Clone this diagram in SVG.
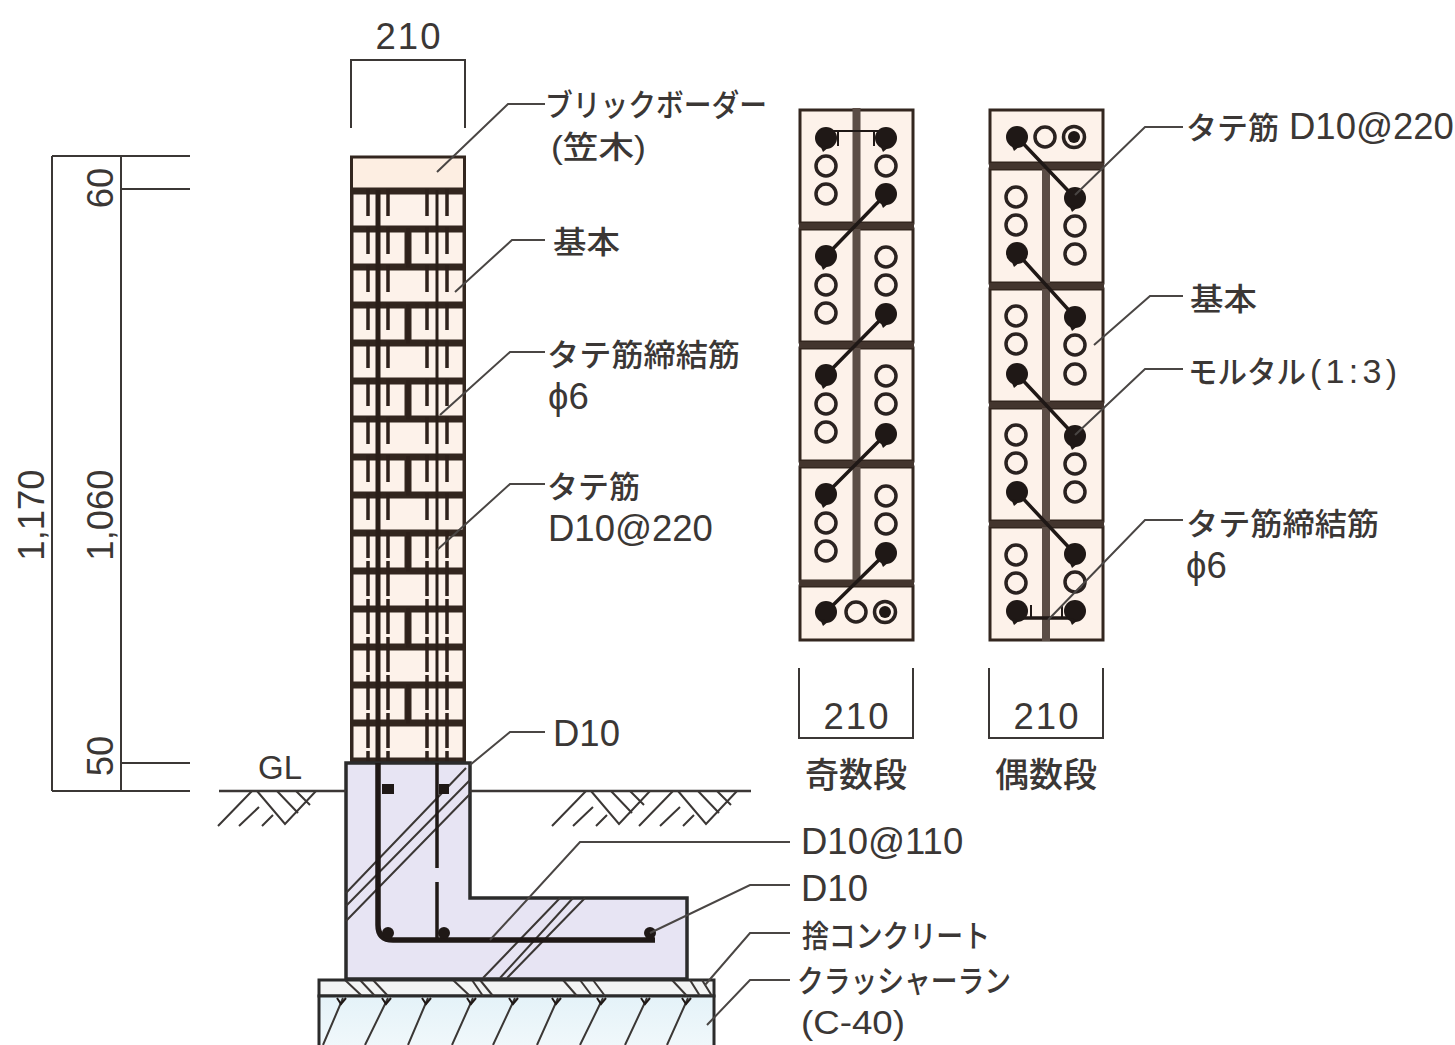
<svg xmlns="http://www.w3.org/2000/svg" xmlns:xlink="http://www.w3.org/1999/xlink" width="1455" height="1045" viewBox="0 0 1455 1045">
<style>
text{font-family:"Liberation Sans","Noto Sans CJK JP",sans-serif;font-size:36.500px;fill:#3b3735}
.j{font-family:"Noto Sans CJK JP","Liberation Sans",sans-serif;font-size:31px;font-weight:500}
.k{font-size:34px}
.m{text-anchor:middle}
.lead{fill:none;stroke:#4a4644;stroke-width:2}
.dim{fill:none;stroke:#3b3735;stroke-width:2}
.brick{fill:#fdf2ea;stroke:#33261f;stroke-width:3}
.tick{stroke:#2e211b;stroke-width:3.500;fill:none}
.hatch{stroke:#3b3735;stroke-width:2;fill:none}
.open{fill:#fdf2ea;stroke:#2a2220;stroke-width:3.500}
.fill{fill:#1f1816}
.bar{stroke:#1f1816;stroke-width:3.500;fill:none}
.thin{stroke:#1f1816;stroke-width:2;fill:none}
.band{fill:#5b4d46}
.joint{stroke:#43352e;stroke-width:6;fill:none}
</style>
<defs>
<g id="ticks"><path class="tick" d="M368 -4V23M388 -4V23M427 -4V23M447 -4V23"/></g>
<g id="ticks2"><path class="tick" d="M368 26V38M388 26V38M427 26V38M447 26V38"/></g>
<g id="rowA"><rect class="brick" x="352" y="0" width="112" height="34"/><use xlink:href="#ticks"/></g>
<g id="rowB"><rect class="brick" x="352" y="0" width="54" height="34"/><rect class="brick" x="410" y="0" width="54" height="34"/><path class="tick" d="M408 -3V37"/><use xlink:href="#ticks"/></g>
<g id="rowA2"><use xlink:href="#rowA"/><use xlink:href="#ticks2"/></g>
<g id="rowB2"><use xlink:href="#rowB"/><use xlink:href="#ticks2"/></g>
<g id="f"><circle class="fill" r="11"/><path class="fill" d="M-6 7L-3 14L3 9Z"/></g>
<g id="o"><circle class="open" r="10"/></g>
<g id="d"><circle class="open" r="10.500"/><circle class="fill" r="6"/></g>
<g id="ground"><path class="hatch" d="M218 826L252 791M239 826L259 807M262 826L273 815M257 791L285 824L316 791M277 791L298 813M296 791L310 805"/></g>
<linearGradient id="crush" x1="0" y1="0" x2="0" y2="1"><stop offset="0" stop-color="#e4f2f8"/><stop offset="1" stop-color="#f1f8fb"/></linearGradient>
</defs>

<g id="wall">
<rect x="350" y="187" width="116" height="576" fill="#33261f"/>
<rect class="brick" x="351.500" y="157" width="113" height="32" style="fill:#fdeee2"/>
<use xlink:href="#rowA" y="193"/><use xlink:href="#rowB" y="231"/><use xlink:href="#rowA" y="269"/><use xlink:href="#rowB" y="307"/><use xlink:href="#rowA" y="345"/><use xlink:href="#rowB" y="383"/><use xlink:href="#rowA" y="421"/><use xlink:href="#rowB" y="459"/><use xlink:href="#rowA" y="497"/><use xlink:href="#rowB2" y="535"/><use xlink:href="#rowA2" y="573"/><use xlink:href="#rowB2" y="611"/><use xlink:href="#rowA2" y="649"/><use xlink:href="#rowB2" y="687"/><use xlink:href="#rowA2" y="725"/>
<path d="M378 190V763" stroke="#2a1e18" stroke-width="5"/>
<path d="M437 190V763" stroke="#2a1e18" stroke-width="3"/>
</g>

<g id="base">
<rect x="319" y="980" width="395" height="16" fill="#f2f4f4" stroke="#2b2b2b" stroke-width="3"/>
<rect x="319" y="996" width="395" height="52" fill="url(#crush)" stroke="#2b2b2b" stroke-width="3"/>
<path class="hatch" d="M345 980L362 996M360 980L375 996M373 980L388 996M453 980L470 996M472 980L483 996M480 980L493 996M563 980L577 996M580 980L592 996M593 980L605 996M672 980L687 996M690 980L700 996M702 980L712 996"/>
<path class="hatch" d="M343 998L323 1045M388 998L365 1045M428 998L408 1045M473 998L452 1045M515 998L493 1045M558 998L537 1045M603 998L580 1045M647 998L625 1045M688 998L667 1045"/>
<path class="thin" d="M337 998L341 1004L346 998M382 998L386 1004L391 998M422 998L426 1004L431 998M467 998L471 1004L476 998M509 998L513 1004L518 998M552 998L556 1004L561 998M597 998L601 1004L606 998M641 998L645 1004L650 998M682 998L686 1004L691 998"/>
</g>

<g id="footing">
<path d="M346 763H470V898H687V979H346Z" fill="#e7e4f3" stroke="#2b2b2b" stroke-width="3.500"/>
<path class="hatch" d="M346 893L466 768M346 906L470 780M346 921L470 794M483 978L560 898M500 978L573 898M507 978L585 898"/>
<path d="M378 763V925Q378 940 393 940H655" fill="none" stroke="#1f1816" stroke-width="5.500"/>
<path class="bar" d="M437 763V868M437 882V940"/>
<rect class="fill" x="382" y="784" width="12" height="10"/><rect class="fill" x="439" y="784" width="10" height="10"/><circle class="fill" cx="388" cy="933" r="6"/><circle class="fill" cx="444" cy="933" r="6"/><circle class="fill" cx="650" cy="933" r="6"/>
</g>

<g id="ground-line">
<path class="dim" style="stroke-width:2.500" d="M219 791H346M470 791H751"/>
<use xlink:href="#ground"/><use xlink:href="#ground" x="334"/><use xlink:href="#ground" x="421"/>
<text x="258" y="779" style="font-size:33px">GL</text>
</g>

<g id="odd-column">
<rect class="brick" x="800" y="110" width="113" height="113"/><rect class="brick" x="800" y="229" width="113" height="113"/><rect class="brick" x="800" y="348" width="113" height="113"/><rect class="brick" x="800" y="467" width="113" height="114"/><rect class="brick" x="800" y="586" width="113" height="54"/>
<rect class="band" x="852.500" y="108" width="8" height="478"/>
<path class="joint" d="M799 226H914M799 345H914M799 464H914M799 583H914"/>
<path class="bar" d="M886 194L826 256M886 314L826 375M886 434L826 494M886 553L826 612"/>
<path class="thin" d="M826 131H886M838 131V146M874 131V146"/>
<use xlink:href="#f" x="826" y="138"/><use xlink:href="#o" x="826" y="166"/><use xlink:href="#o" x="826" y="194"/>
<use xlink:href="#f" x="886" y="138"/><use xlink:href="#o" x="886" y="166"/><use xlink:href="#f" x="886" y="194"/>
<use xlink:href="#f" x="826" y="256"/><use xlink:href="#o" x="826" y="285"/><use xlink:href="#o" x="826" y="313"/>
<use xlink:href="#o" x="886" y="257"/><use xlink:href="#o" x="886" y="285"/><use xlink:href="#f" x="886" y="314"/>
<use xlink:href="#f" x="826" y="375"/><use xlink:href="#o" x="826" y="404"/><use xlink:href="#o" x="826" y="432"/>
<use xlink:href="#o" x="886" y="376"/><use xlink:href="#o" x="886" y="404"/><use xlink:href="#f" x="886" y="434"/>
<use xlink:href="#f" x="826" y="494"/><use xlink:href="#o" x="826" y="523"/><use xlink:href="#o" x="826" y="551"/>
<use xlink:href="#o" x="886" y="496"/><use xlink:href="#o" x="886" y="524"/><use xlink:href="#f" x="886" y="553"/>
<use xlink:href="#f" x="826" y="612"/><use xlink:href="#o" x="856" y="612"/><use xlink:href="#d" x="885" y="612"/>
</g>

<g id="even-column">
<rect class="brick" x="990" y="110" width="113" height="53"/><rect class="brick" x="990" y="169" width="113" height="114"/><rect class="brick" x="990" y="289" width="113" height="113"/><rect class="brick" x="990" y="408" width="113" height="113"/><rect class="brick" x="990" y="527" width="113" height="113"/>
<rect class="band" x="1042" y="166" width="8" height="475"/>
<path class="joint" d="M989 166H1104M989 286H1104M989 405H1104M989 524H1104"/>
<path class="bar" d="M1017 137L1075 198M1017 253L1075 317M1017 374L1075 436M1017 492L1075 554M1017 618H1075"/>
<path class="thin" d="M1031 605V618M1062 605V618"/>
<use xlink:href="#f" x="1017" y="137"/><use xlink:href="#o" x="1045" y="137"/><use xlink:href="#d" x="1074" y="137"/>
<use xlink:href="#o" x="1016" y="197"/><use xlink:href="#o" x="1016" y="225"/><use xlink:href="#f" x="1017" y="253"/>
<use xlink:href="#f" x="1075" y="198"/><use xlink:href="#o" x="1075" y="226"/><use xlink:href="#o" x="1075" y="254"/>
<use xlink:href="#o" x="1016" y="316"/><use xlink:href="#o" x="1016" y="344"/><use xlink:href="#f" x="1017" y="374"/>
<use xlink:href="#f" x="1075" y="317"/><use xlink:href="#o" x="1075" y="345"/><use xlink:href="#o" x="1075" y="374"/>
<use xlink:href="#o" x="1016" y="435"/><use xlink:href="#o" x="1016" y="463"/><use xlink:href="#f" x="1017" y="492"/>
<use xlink:href="#f" x="1075" y="436"/><use xlink:href="#o" x="1075" y="464"/><use xlink:href="#o" x="1075" y="492"/>
<use xlink:href="#o" x="1016" y="555"/><use xlink:href="#o" x="1016" y="583"/><use xlink:href="#f" x="1017" y="611"/>
<use xlink:href="#f" x="1075" y="554"/><use xlink:href="#o" x="1075" y="582"/><use xlink:href="#f" x="1075" y="611"/>
</g>

<g id="connectors">
<path class="lead" d="M545 104H508L437 172"/>
<path class="lead" d="M545 240H512L455 292"/>
<path class="lead" d="M545 352H510L440 415"/>
<path class="lead" d="M545 484H510L437 550"/>
<path class="lead" d="M545 732H510L470 765"/>
<path class="lead" d="M1183 127H1145L1075 195"/>
<path class="lead" d="M1183 296H1150L1094 345"/>
<path class="lead" d="M1183 369H1145L1075 435"/>
<path class="lead" d="M1183 520H1145L1048 620"/>
<path class="lead" d="M790 842H580L490 940"/>
<path class="lead" d="M790 885H750L650 933"/>
<path class="lead" d="M790 933H750L705 985"/>
<path class="lead" d="M790 980H750L707 1025"/>
</g>

<g id="dimensions">
<path class="dim" d="M351 128V60H465V128"/>
<text class="m" x="408" y="49" textLength="65">210</text>
<path class="dim" d="M52 156H190M121 189H190M121 763H190M52 791H190M52 156V791M121 156V791"/>
<text class="m" transform="translate(44 515) rotate(-90)">1,170</text>
<text class="m" transform="translate(113 188) rotate(-90)">60</text>
<text class="m" transform="translate(113 515) rotate(-90)">1,060</text>
<text class="m" transform="translate(113 756) rotate(-90)">50</text>
<path class="dim" d="M799 668V738H913V668"/>
<text class="m" x="856" y="729" textLength="65">210</text>
<text class="j k m" x="856" y="787">奇数段</text>
<path class="dim" d="M989 668V738H1103V668"/>
<text class="m" x="1046" y="729" textLength="65">210</text>
<text class="j k m" x="1046" y="787">偶数段</text>
</g>

<g id="labels">
<text class="j" x="545" y="116" textLength="222" lengthAdjust="spacingAndGlyphs">ブリックボーダー</text>
<text x="551" y="158" textLength="95" lengthAdjust="spacingAndGlyphs" style="font-size:31px;font-weight:500">(笠木)</text>
<text class="j" x="553" y="253" textLength="67" lengthAdjust="spacingAndGlyphs">基本</text>
<text class="j" x="547" y="366" textLength="193" lengthAdjust="spacingAndGlyphs">タテ筋締結筋</text>
<text x="548" y="409">ϕ6</text>
<text class="j" x="547" y="498">タテ筋</text>
<text x="548" y="541">D10@220</text>
<text x="553" y="746">D10</text>
<text class="j" x="1186" y="139">タテ筋</text><text x="1289" y="139">D10@220</text>
<text class="j" x="1190" y="310" textLength="67" lengthAdjust="spacingAndGlyphs">基本</text>
<text class="j" x="1188" y="383" textLength="118" lengthAdjust="spacingAndGlyphs">モルタル</text>
<text x="1310" y="383" textLength="87" style="font-size:34px">(1:3)</text>
<text class="j" x="1186" y="535" textLength="193" lengthAdjust="spacingAndGlyphs">タテ筋締結筋</text>
<text x="1186" y="578">ϕ6</text>
<text x="801" y="854">D10@110</text>
<text x="801" y="901">D10</text>
<text class="j" x="802" y="947" textLength="188" lengthAdjust="spacingAndGlyphs">捨コンクリート</text>
<text class="j" x="797" y="992" textLength="214" lengthAdjust="spacingAndGlyphs">クラッシャーラン</text>
<text x="801" y="1034" textLength="104" lengthAdjust="spacingAndGlyphs" style="font-size:33px">(C-40)</text>
</g>
</svg>
